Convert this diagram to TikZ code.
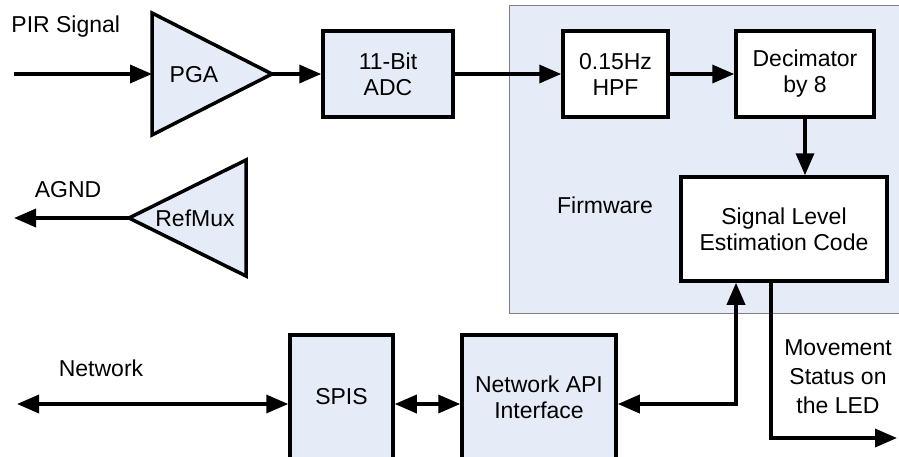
\documentclass[tikz,border=0pt]{standalone}
\usepackage{fontspec}
\setmainfont{Liberation Sans}
\usetikzlibrary{arrows.meta}
\definecolor{blockblue}{RGB}{230,236,247}

\begin{document}
\begin{tikzpicture}[x=0.5pt,y=-0.5pt,>={Triangle[length=11pt,width=9pt]},
                    line width=1.75pt,font=\fontsize{11.5}{13}\selectfont,
                    blk/.style={draw,fill=blockblue,align=center,inner sep=0pt},
                    fw/.style={blk,fill=white},
                    amp/.style={draw,fill=blockblue,line join=miter},
                    panel/.style={fill=blockblue,draw=gray,line width=0.5pt}]

  \useasboundingbox (0,0) rectangle (899,456);

  % firmware area
  \draw[panel] (509,5) rectangle (915,313);

  \node[blk,minimum width=65pt,minimum height=43pt]   (adc)  at (388,74)    {11-Bit\\ADC};
  \node[fw,minimum width=52.5pt,minimum height=43pt]  (hpf)  at (615.5,74)  {0.15Hz\\HPF};
  \node[fw,minimum width=69pt,minimum height=43pt]    (dec)  at (805,74)    {Decimator\\by 8};
  \node[fw,minimum width=103pt,minimum height=52pt]   (sle)  at (784,229)   {Signal Level\\Estimation Code};
  \node[blk,minimum width=51.5pt,minimum height=62pt] (spis) at (341.5,397) {SPIS};
  \node[blk,minimum width=77pt,minimum height=62pt]   (napi) at (539,397)   {Network API\\Interface};

  % amplifiers
  \draw[amp] (152,13) -- (272,74) -- (152,135) -- cycle;
  \coordinate (pgain)  at (152,74);
  \coordinate (pgaout) at (272,74);
  \node (pga) at (194,75) {PGA};
  \draw[amp] (129,218) -- (246,160) -- (246,276) -- cycle;
  \coordinate (refout) at (129,218);
  \node (refmux) at (195,218) {RefMux};

  \coordinate (pir)  at (14,74);
  \coordinate (agnd) at (14,218);
  \coordinate (net)  at (17,404);
  \coordinate (led)  at (897,438);

  \node[anchor=west] (pirlbl) at (3,27)  {PIR Signal};
  \node (agndlbl)             at (68,190) {AGND};
  \node (netlbl)              at (101,368) {Network};
  \node (fwlbl)               at (605,205) {Firmware};
  \node[align=center,font=\fontsize{11.5}{14.5}\selectfont] (ledlbl) at (838,377)
       {Movement\\Status on\\the LED};

  \draw[->]  (pir) -- (pgain);
  \draw[->]  (pgaout) -- (adc);
  \draw[->]  (adc) -- (hpf);
  \draw[->]  (hpf) -- (dec);
  \draw[->]  (dec.south) -- (dec.south |- sle.north);
  \draw[->]  (refout) -- (agnd);
  \draw[<->] (net) -- (spis.west |- net);
  \draw[<->] (spis.east |- net) -- (napi.west |- net);
  \draw[<->] (napi.east |- net) -| ([xshift=-24pt]sle.south);
  \draw[->]  ([xshift=-6.5pt]sle.south) |- (led);
\end{tikzpicture}
\end{document}
